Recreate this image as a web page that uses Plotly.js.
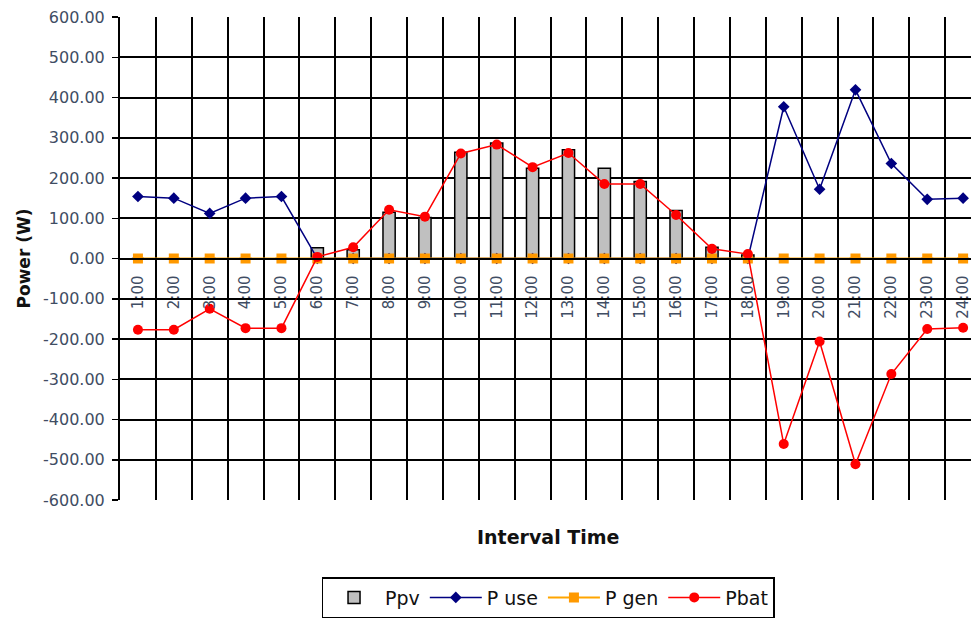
<!DOCTYPE html>
<html>
<head>
<meta charset="utf-8">
<script src="https://cdn.plot.ly/plotly-3.0.1.min.js"></script>
<style>
html,body{margin:0;padding:0;background:#fff;overflow:hidden;}
#chart{width:971px;height:618px;}
</style>
</head>
<body>
<div id="chart"></div>
<script>
const hours = ["1:00","2:00","3:00","4:00","5:00","6:00","7:00","8:00","9:00","10:00","11:00","12:00",
               "13:00","14:00","15:00","16:00","17:00","18:00","19:00","20:00","21:00","22:00","23:00","24:00"];
const ppv  = [0,0,0,0,0,27,22,115,102,264,287,224,270,224,191,119,28,9,0,0,0,0,0,0];
const puse = [154,150,112,150,154,0,0,0,0,0,0,0,0,0,0,0,0,0,377,172,419,236,147,150];
const pgen = [0,0,0,0,0,0,0,0,0,0,0,0,0,0,0,0,0,0,0,0,0,0,0,0];
const pbat = [-177,-177,-125,-173,-173,4,28,121,104,261,283,227,262,185,185,108,24,11,-461,-206,-511,-287,-175,-172];
const yTicks = [-600,-500,-400,-300,-200,-100,0,100,200,300,400,500,600];
const yTickText = yTicks.map(v => v.toFixed(2));

const FONT = "DejaVu Sans, Liberation Sans, Arial, sans-serif";
const LABEL = "#3f4d63";

const traces = [
  {type:"bar", name:"Ppv", x:hours, y:ppv, width:0.34,
   marker:{color:"#c0c0c0", line:{color:"#000000", width:1.5}}},
  {type:"scatter", mode:"lines+markers", name:"P use", x:hours, y:puse,
   line:{color:"#000080", width:1.5}, marker:{symbol:"diamond", size:9, color:"#000080"}, cliponaxis:false},
  {type:"scatter", mode:"lines+markers", name:"P gen", x:hours, y:pgen,
   line:{color:"#ffa500", width:2}, marker:{symbol:"square", size:10, color:"#ff9900"}, cliponaxis:false},
  {type:"scatter", mode:"lines+markers", name:"Pbat", x:hours, y:pbat,
   line:{color:"#ff0000", width:1.5}, marker:{symbol:"circle", size:10, color:"#ff0000"}, cliponaxis:false}
];

const layout = {
  width:971, height:618,
  margin:{l:120, r:0, t:17, b:118, pad:0},
  paper_bgcolor:"#ffffff", plot_bgcolor:"#ffffff",
  font:{family:FONT, color:LABEL},
  showlegend:true,
  barmode:"overlay",
  xaxis:{
    type:"category", categoryorder:"array", categoryarray:hours,
    range:[-0.5, 23.22],
    anchor:"free", position:0.5,
    tickson:"boundaries", ticks:"", tickangle:-90,
    ticklabelstandoff:10,
    showgrid:true, gridcolor:"#000000", gridwidth:2,
    showline:true, linecolor:"#000000", linewidth:2,
    tickfont:{family:FONT, size:15, color:LABEL},
    fixedrange:true
  },
  yaxis:{
    range:[-600,600], tickvals:yTicks, ticktext:yTickText,
    ticks:"outside", ticklen:6, tickwidth:1.5, tickcolor:"#000000",
    ticklabelstandoff:4,
    showgrid:true, gridcolor:"#000000", gridwidth:2,
    zeroline:true, zerolinecolor:"#000000", zerolinewidth:2,
    showline:true, linecolor:"#000000", linewidth:2,
    tickfont:{family:FONT, size:16, color:LABEL},
    title:{text:"Power (W)", font:{family:FONT, size:17, color:"#111111", weight:"bold"}, standoff:8},
    fixedrange:true
  },
  annotations:[
    {text:"<b>Interval Time</b>", xref:"paper", yref:"paper", x:0.503, y:-0.077,
     xanchor:"center", yanchor:"middle", showarrow:false,
     font:{family:FONT, size:19, color:"#111111"}}
  ],
  legend:{
    orientation:"h", xref:"container", yref:"container",
    x:0.5644, xanchor:"center", y:0.0663, yanchor:"top",
    bordercolor:"#000000", borderwidth:1.5, bgcolor:"#ffffff",
    font:{family:FONT, size:19, color:"#111111"},
    traceorder:"normal", itemwidth:52
  }
};

Plotly.newPlot("chart", traces, layout, {displayModeBar:false, staticPlot:true});
</script>
</body>
</html>
